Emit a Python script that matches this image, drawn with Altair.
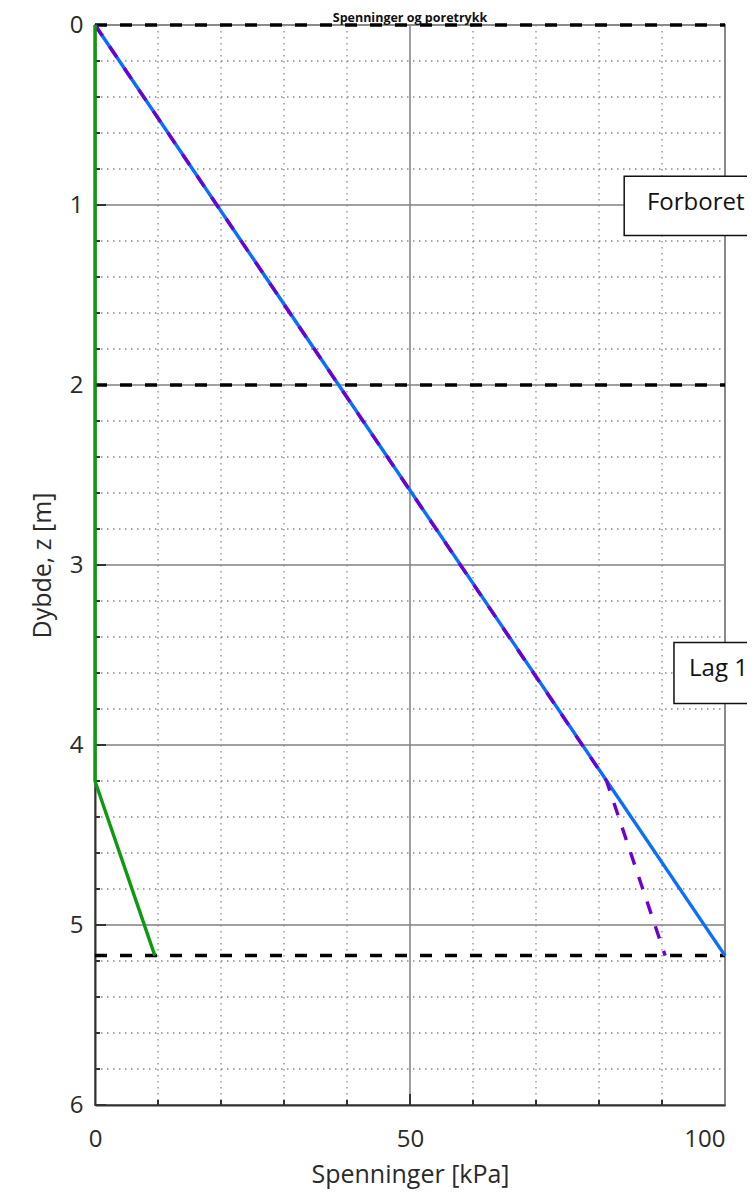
import altair as alt
import pandas as pd

# ---- data ----
layer_bounds_z = [0.0, 2.0, 5.17]

total_z = [0.0, 5.17]
total_kpa = [0.0, 100.0]

pore_z = [0.0, 4.2, 5.17]
pore_kpa = [0.0, 0.0, 9.5]

eff_z = [0.0, 4.2, 5.17]
eff_kpa = [0.0, 81.2, 90.5]

label_text = ["Forboret", "Lag 1"]
label_kpa = [87.6, 94.3]
label_z = [0.99, 3.58]
box_kpa = [84.0, 91.9]
box_kpa2 = [125.0, 125.0]
box_z = [0.84, 3.43]
box_z2 = [1.17, 3.77]

x_major = [50]
x_minor = [10, 20, 30, 40, 60, 70, 80, 90]
z_major = [1, 2, 3, 4, 5]
z_minor = [0.2, 0.4, 0.6, 0.8, 1.2, 1.4, 1.6, 1.8, 2.2, 2.4, 2.6, 2.8,
           3.2, 3.4, 3.6, 3.8, 4.2, 4.4, 4.6, 4.8, 5.2, 5.4, 5.6, 5.8]
x_tick_labels = [0, 50, 100]
z_tick_labels = [0, 1, 2, 3, 4, 5, 6]

title_text = "Spenninger og poretrykk"

FONT = "Open Sans"
W, H = 630, 1080

xs = alt.Scale(domain=[0, 100], nice=False, zero=False)
ys = alt.Scale(domain=[0, 6], reverse=True, nice=False, zero=False)

xaxis = alt.Axis(values=x_tick_labels, title="Spenninger [kPa]", grid=False, ticks=False,
                 domain=True, domainColor="#333333", domainWidth=2,
                 labelFont=FONT, labelFontSize=24, labelColor="#2a2a2a",
                 labelPadding=22, labelFlush=False,
                 labelAlign={"condition": {"test": "datum.value >= 100", "value": "right"},
                             "value": "center"},
                 titleFont=FONT, titleFontSize=25, titleFontWeight="normal",
                 titleColor="#2a2a2a", titlePadding=11)
yaxis = alt.Axis(values=z_tick_labels, title="Dybde, z [m]", grid=False, ticks=False,
                 domain=True, domainColor="#333333", domainWidth=2,
                 labelFont=FONT, labelFontSize=24, labelColor="#2a2a2a",
                 labelPadding=12, labelFlush=False,
                 titleFont=FONT, titleFontSize=25, titleFontWeight="normal",
                 titleColor="#2a2a2a", titlePadding=14)


def X(f):
    return alt.X(f, type="quantitative", scale=xs, axis=xaxis)


def Y(f):
    return alt.Y(f, type="quantitative", scale=ys, axis=yaxis)


# grids
xminor_df = pd.DataFrame({"kpa": x_minor})
zminor_df = pd.DataFrame({"z": z_minor})
xmajor_df = pd.DataFrame({"kpa": x_major})
zmajor_df = pd.DataFrame({"z": z_major})
zlab_df = pd.DataFrame({"z": z_tick_labels})

grid_minor_x = alt.Chart(xminor_df).mark_rule(color="#8a8a8a", strokeWidth=1.3, strokeDash=[1.5, 4.5]).encode(
    x=X("kpa"), y=alt.value(0), y2=alt.value(H))
grid_minor_z = alt.Chart(zminor_df).mark_rule(color="#8a8a8a", strokeWidth=1.3, strokeDash=[1.5, 4.5]).encode(
    y=Y("z"), x=alt.value(0), x2=alt.value(W))
grid_major_x = alt.Chart(xmajor_df).mark_rule(color="#808080", strokeWidth=1.5).encode(
    x=X("kpa"), y=alt.value(0), y2=alt.value(H))
grid_major_z = alt.Chart(zmajor_df).mark_rule(color="#808080", strokeWidth=1.5).encode(
    y=Y("z"), x=alt.value(0), x2=alt.value(W))

# inward ticks
tick_minor_z = alt.Chart(zminor_df).mark_rule(color="#333333", strokeWidth=2).encode(
    y=Y("z"), x=alt.value(0), x2=alt.value(5))
tick_major_z = alt.Chart(zlab_df).mark_rule(color="#333333", strokeWidth=2).encode(
    y=Y("z"), x=alt.value(0), x2=alt.value(11))
tick_minor_x = alt.Chart(xminor_df).mark_rule(color="#333333", strokeWidth=2).encode(
    x=X("kpa"), y=alt.value(H), y2=alt.value(H - 5))
tick_major_x = alt.Chart(xmajor_df).mark_rule(color="#333333", strokeWidth=2).encode(
    x=X("kpa"), y=alt.value(H), y2=alt.value(H - 11))

# layer boundaries
bounds = alt.Chart(pd.DataFrame({"z": layer_bounds_z})).mark_rule(
    color="black", strokeWidth=3.5, strokeDash=[12, 13]).encode(
    y=Y("z"), x=alt.value(0), x2=alt.value(W))

# series
total_df = pd.DataFrame({"kpa": total_kpa, "z": total_z, "i": range(len(total_z))})
pore_df = pd.DataFrame({"kpa": pore_kpa, "z": pore_z, "i": range(len(pore_z))})
eff_df = pd.DataFrame({"kpa": eff_kpa, "z": eff_z, "i": range(len(eff_z))})

total_line = alt.Chart(total_df).mark_line(color="#0A6EFF", strokeWidth=3.4).encode(
    x=X("kpa"), y=Y("z"), order="i:O")
eff_line = alt.Chart(eff_df).mark_line(color="#6E00D2", strokeWidth=3.4, strokeDash=[13, 13]).encode(
    x=X("kpa"), y=Y("z"), order="i:O")
pore_line = alt.Chart(pore_df).mark_line(color="#0E9A0E", strokeWidth=3.4).encode(
    x=X("kpa"), y=Y("z"), order="i:O")

# label boxes
box_df = pd.DataFrame({"kpa": box_kpa, "kpa2": box_kpa2, "z": box_z, "z2": box_z2})
boxes = alt.Chart(box_df).mark_rect(fill="white", stroke="#111111", strokeWidth=1.5).encode(
    x=X("kpa"), x2="kpa2", y=Y("z"), y2="z2")
lab_df = pd.DataFrame({"kpa": label_kpa, "z": label_z, "t": label_text})
labels = alt.Chart(lab_df).mark_text(font=FONT, fontSize=24, align="left", baseline="middle",
                                     color="#111111").encode(
    x=X("kpa"), y=Y("z"), text="t:N")

title = alt.Chart(pd.DataFrame({"t": [title_text]})).mark_text(
    font=FONT, fontSize=12.5, fontWeight="bold", align="center", baseline="alphabetic",
    color="#111111").encode(x=alt.value(W / 2), y=alt.value(-3.5), text="t:N")

chart = alt.layer(
    grid_minor_x, grid_minor_z, grid_major_x, grid_major_z,
    tick_minor_z, tick_major_z, tick_minor_x, tick_major_x,
    bounds, total_line, eff_line, pore_line, boxes, labels, title
).properties(
    width=W, height=H,
    autosize=alt.AutoSizeParams(type="none"),
    padding={"left": 87, "top": 17, "right": 22, "bottom": 88},
).configure_view(stroke="#8a8a8a", strokeWidth=2)

chart.save("out.html", embed_options={"renderer": "svg", "actions": False})
